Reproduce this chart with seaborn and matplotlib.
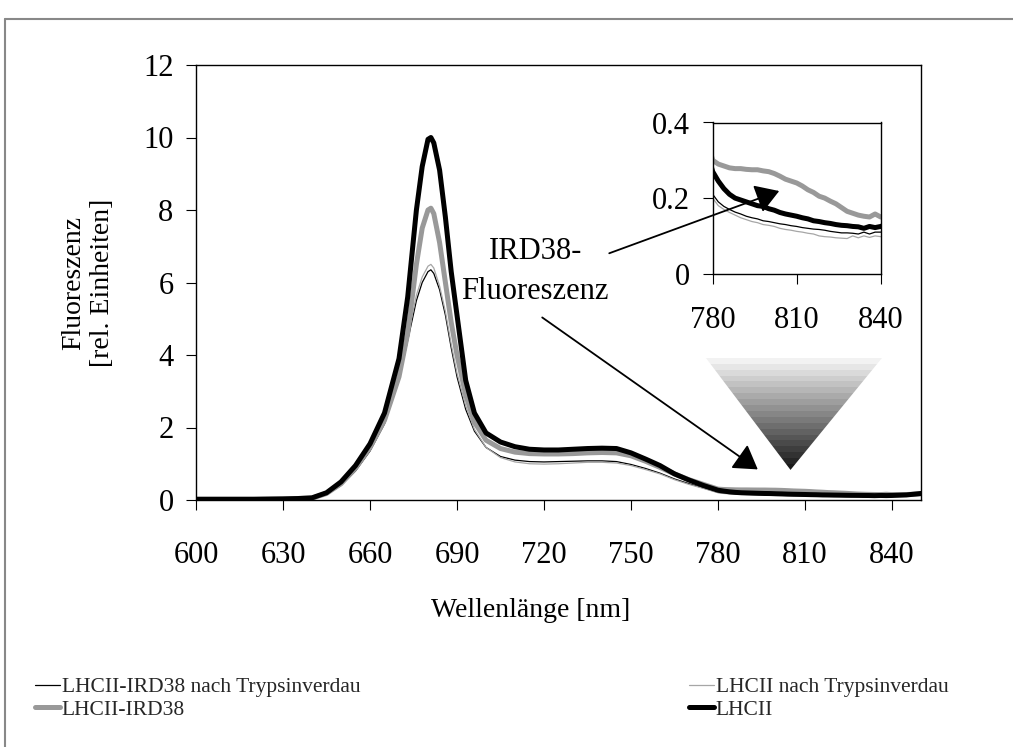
import numpy as np
import matplotlib
matplotlib.use("Agg")
import matplotlib.pyplot as plt
import seaborn as sns
from matplotlib.patches import Polygon, FancyArrowPatch
from matplotlib.colors import LinearSegmentedColormap
from matplotlib.lines import Line2D

# ---------------- data ----------------
wavelength = [600, 610, 620, 630, 635, 640, 645, 650, 655, 660,
              665, 670, 673, 676, 678, 680, 681, 682, 684, 686,
              688, 690, 693, 696, 700, 705, 710, 715, 720, 725,
              730, 735, 740, 745, 750, 755, 760, 765, 770, 775,
              780, 782, 784, 786, 788, 790, 792, 794, 796, 798,
              800, 802, 804, 806, 808, 810, 812, 814, 816, 818,
              820, 822, 824, 826, 828, 830, 832, 834, 836, 838,
              840, 845, 850]

lhcii_ird38_trypsin = [0.02, 0.02, 0.02, 0.03, 0.03, 0.04, 0.15, 0.40, 0.80, 1.35,
                       2.10, 3.30, 4.40, 5.50, 6.00, 6.30, 6.35, 6.25, 5.80, 5.10,
                       4.20, 3.40, 2.50, 1.90, 1.45, 1.20, 1.10, 1.06, 1.05, 1.06,
                       1.07, 1.08, 1.08, 1.06, 0.98, 0.87, 0.74, 0.58, 0.45, 0.33,
                       0.21, 0.19, 0.178, 0.17, 0.163, 0.158, 0.152, 0.148, 0.145, 0.14,
                       0.138, 0.135, 0.132, 0.13, 0.127, 0.125, 0.122, 0.12, 0.118, 0.117,
                       0.115, 0.112, 0.11, 0.108, 0.108, 0.107, 0.105, 0.11, 0.105, 0.11,
                       0.11, 0.12, 0.15]

lhcii_trypsin = [0.02, 0.02, 0.02, 0.03, 0.03, 0.04, 0.16, 0.42, 0.82, 1.38,
                 2.15, 3.40, 4.50, 5.65, 6.15, 6.45, 6.50, 6.40, 5.90, 5.20,
                 4.30, 3.50, 2.60, 1.95, 1.45, 1.17, 1.05, 1.00, 0.99, 1.00,
                 1.02, 1.04, 1.04, 1.02, 0.95, 0.84, 0.72, 0.56, 0.43, 0.32,
                 0.20, 0.18, 0.17, 0.162, 0.155, 0.148, 0.143, 0.138, 0.135, 0.13,
                 0.128, 0.125, 0.12, 0.117, 0.115, 0.112, 0.11, 0.107, 0.105, 0.10,
                 0.098, 0.097, 0.095, 0.094, 0.093, 0.10, 0.095, 0.10, 0.096, 0.10,
                 0.098, 0.10, 0.13]

lhcii_ird38 = [0.02, 0.02, 0.02, 0.03, 0.04, 0.05, 0.18, 0.45, 0.88, 1.45,
               2.20, 3.40, 4.60, 6.50, 7.50, 8.00, 8.05, 7.90, 7.10, 6.00,
               4.90, 4.00, 2.90, 2.15, 1.65, 1.42, 1.32, 1.28, 1.27, 1.27,
               1.28, 1.30, 1.31, 1.30, 1.22, 1.07, 0.90, 0.72, 0.56, 0.43,
               0.30, 0.29, 0.285, 0.28, 0.278, 0.278, 0.276, 0.275, 0.275, 0.272,
               0.27, 0.265, 0.258, 0.25, 0.245, 0.24, 0.232, 0.222, 0.215, 0.205,
               0.20, 0.192, 0.185, 0.175, 0.165, 0.16, 0.155, 0.152, 0.15, 0.158,
               0.15, 0.15, 0.17]

lhcii = [0.02, 0.02, 0.02, 0.03, 0.04, 0.06, 0.20, 0.50, 0.95, 1.55,
         2.40, 3.90, 5.60, 8.00, 9.20, 9.95, 10.00, 9.85, 9.10, 7.80,
         6.30, 5.10, 3.30, 2.40, 1.85, 1.60, 1.47, 1.40, 1.38, 1.38,
         1.40, 1.42, 1.43, 1.42, 1.30, 1.13, 0.95, 0.72, 0.55, 0.40,
         0.27, 0.245, 0.225, 0.21, 0.20, 0.195, 0.19, 0.185, 0.18, 0.178,
         0.172, 0.168, 0.162, 0.158, 0.155, 0.152, 0.148, 0.145, 0.14, 0.138,
         0.135, 0.133, 0.13, 0.128, 0.127, 0.125, 0.124, 0.12, 0.125, 0.122,
         0.125, 0.14, 0.18]

series_labels = ["LHCII-IRD38 nach Trypsinverdau", "LHCII nach Trypsinverdau",
                 "LHCII-IRD38", "LHCII"]
series_values = [lhcii_ird38_trypsin, lhcii_trypsin, lhcii_ird38, lhcii]
series_colors = ["#000000", "#a6a6a6", "#999999", "#000000"]
series_widths = [0.9, 0.9, 3.6, 3.6]

main_xticks = [600, 630, 660, 690, 720, 750, 780, 810, 840]
main_yticks = [0, 2, 4, 6, 8, 10, 12]
inset_xticks = [780, 810, 840]
inset_yticks = [0, 0.2, 0.4]
inset_yticklabels = ["0", "0.2", "0.4"]

# ---------------- style ----------------
sns.set_theme(style="white")
plt.rcParams["font.family"] = ["Liberation Serif", "DejaVu Serif"]

W, H = 1013, 747
fig = plt.figure(figsize=(W / 100, H / 100), dpi=100)
fig.patch.set_facecolor("white")

ax = fig.add_axes([196 / W, 1 - 500 / H, 725 / W, 435 / H])

def draw_series(a):
    for vals, col, lw in zip(series_values, series_colors, series_widths):
        sns.lineplot(x=wavelength, y=vals, ax=a, color=col, linewidth=lw,
                     legend=False, solid_capstyle="round", solid_joinstyle="round")

draw_series(ax)

# gradient "zoom" triangle (annotation)
tri = [(774.5, 4.06), (838.0, 4.06), (805, 0.83)]
cmap = LinearSegmentedColormap.from_list("g", ["#ffffff", "#1a1a1a"], N=20)
grad = np.linspace(0, 1, 20).reshape(-1, 1)
im = ax.imshow(grad, extent=[774.5, 838.0, 0.83, 4.06], aspect="auto", cmap=cmap,
               interpolation="nearest", zorder=1)
poly = Polygon(tri, closed=True, transform=ax.transData, facecolor="none", edgecolor="none")
ax.add_patch(poly)
im.set_clip_path(poly)

ax.set_xlim(600, 850)
ax.set_ylim(0, 12)
ax.set_xticks(main_xticks)
ax.set_yticks(main_yticks)
ax.tick_params(axis="both", direction="out", length=7.2, width=0.8, color="black",
               labelsize=22, labelcolor="black", bottom=True, left=True)
ax.tick_params(axis="x", pad=22)
ax.tick_params(axis="y", pad=9)
for s in ax.spines.values():
    s.set_visible(True)
    s.set_color("black")
    s.set_linewidth(1.0)

ax.set_xlabel("Wellenlänge [nm]", fontsize=20, color="black")
ax.xaxis.set_label_coords(0.462, -0.226)
ax.set_ylabel("Fluoreszenz\n[rel. Einheiten]", fontsize=20, color="black", linespacing=1.2)
ax.yaxis.set_label_coords(-0.112, 0.5)

ax.text(717, 6.30, "IRD38-\nFluoreszenz", ha="center", va="center", fontsize=22,
        linespacing=1.5, color="black")

# ---------------- inset ----------------
axi = fig.add_axes([712.7 / W, 1 - 273.7 / H, 168 / W, 151.2 / H])
draw_series(axi)
axi.set_xlim(780, 840)
axi.set_ylim(0, 0.4)
axi.set_xticks(inset_xticks)
axi.set_yticks(inset_yticks)
axi.set_yticklabels(inset_yticklabels)
axi.tick_params(axis="both", direction="out", length=7.2, width=0.8, color="black",
                labelsize=22, labelcolor="black", bottom=True, left=True)
axi.tick_params(axis="x", pad=16)
axi.tick_params(axis="y", pad=9)
for s in axi.spines.values():
    s.set_visible(True)
    s.set_color("black")
    s.set_linewidth(1.0)

# ---------------- arrows ----------------
for start, end in [((741.6, 6.78), (802.0, 8.55)), ((718.6, 5.08), (794.5, 0.80))]:
    arr = FancyArrowPatch(start, end, transform=ax.transData,
                          arrowstyle="-|>,head_length=0.45,head_width=0.28",
                          mutation_scale=32, lw=1.3, color="black", zorder=10)
    fig.add_artist(arr)

# ---------------- legend ----------------
order = [0, 2, 1, 3]
handles = [Line2D([], [], color=series_colors[i], linewidth=series_widths[i],
                  solid_capstyle="round") for i in order]
labels = [series_labels[i] for i in order]
fig.legend(handles, labels, loc="upper left", bbox_to_anchor=(35 / W, 1 - 677 / H),
           ncol=2, frameon=False, fontsize=15.5, handlelength=1.15, handletextpad=0.1,
           columnspacing=15.25, labelspacing=0.12, borderpad=0, borderaxespad=0)

# ---------------- figure frame ----------------
fig.add_artist(Line2D([5 / W, 5 / W], [0, 1 - 19 / H], transform=fig.transFigure,
                      color="#888888", linewidth=1.5))
fig.add_artist(Line2D([5 / W, 1], [1 - 19 / H, 1 - 19 / H], transform=fig.transFigure,
                      color="#888888", linewidth=1.5))

fig.savefig("out.png", dpi=100)
